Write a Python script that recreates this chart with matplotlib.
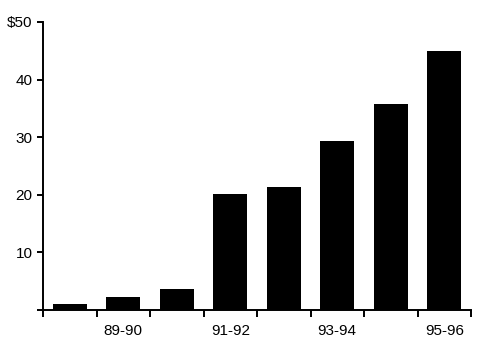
import matplotlib
matplotlib.use("Agg")
import matplotlib.pyplot as plt

temporadas = ['88-89', '89-90', '90-91', '91-92', '92-93', '93-94', '94-95', '95-96']
valores = [1.0, 2.25, 3.6, 20.1, 21.3, 29.4, 35.7, 44.9]
etiquetasX = ['', '89-90', '', '91-92', '', '93-94', '', '95-96']
ticksY = [0, 10, 20, 30, 40, 50]
etiquetasY = ['', '10', '20', '30', '40', '$50']

plt.rcParams['font.family'] = ['Liberation Sans', 'DejaVu Sans']

fig = plt.figure(figsize=(4.88, 3.42), dpi=100)
ax = fig.add_axes([43 / 488, 1 - 310 / 342, 428 / 488, 288 / 342])

posiciones = list(range(len(temporadas)))
ax.bar(posiciones, valores, width=0.64, color='black')

ax.set_xlim(-0.5, len(temporadas) - 0.5)
ax.set_ylim(0, 50)

# ticks de separacion entre barras
ax.set_xticks([p - 0.5 for p in posiciones] + [len(temporadas) - 0.5], minor=True)
ax.set_xticks(posiciones)
ax.set_xticklabels(etiquetasX, fontsize=11)
ax.tick_params(axis='x', which='major', length=0, pad=10)
ax.tick_params(axis='x', which='minor', length=5, width=1.4, direction='out')

ax.set_yticks(ticksY)
ax.set_yticklabels(etiquetasY, fontsize=11)
ax.tick_params(axis='y', length=4.5, width=1.4, direction='out', pad=3)

ax.spines['top'].set_visible(False)
ax.spines['right'].set_visible(False)
ax.spines['left'].set_linewidth(1.4)
ax.spines['bottom'].set_linewidth(1.4)

fig.savefig("out.png", dpi=100)
